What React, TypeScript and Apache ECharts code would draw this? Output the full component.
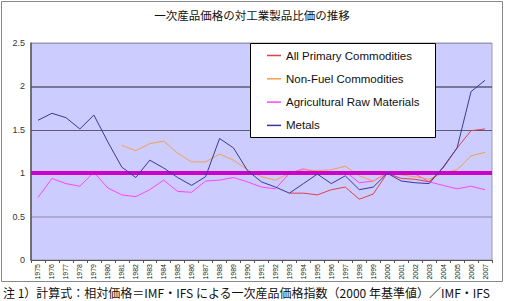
import React, { useEffect, useRef } from "react";
import * as echarts from "echarts";

// Years on the category axis
const years: string[] = [
  "1975", "1976", "1977", "1978", "1979", "1980", "1981", "1982", "1983", "1984",
  "1985", "1986", "1987", "1988", "1989", "1990", "1991", "1992", "1993", "1994",
  "1995", "1996", "1997", "1998", "1999", "2000", "2001", "2002", "2003", "2004",
  "2005", "2006", "2007",
];

// Relative price (commodity index / manufactures index, 2000 = 1)
const allPrimary: (number | null)[] = [
  null, null, null, null, null, null, null, null, null, null,
  null, null, null, null, null, null, null, null, 0.77, 0.77,
  0.75, 0.81, 0.84, 0.70, 0.76, 1.00, 0.94, 0.93, 0.90, 1.06,
  1.29, 1.49, 1.51,
];

const nonFuel: (number | null)[] = [
  null, null, null, null, null, null, 1.32, 1.26, 1.34, 1.37,
  1.23, 1.13, 1.13, 1.22, 1.15, 1.04, 0.96, 0.92, 1.00, 1.04,
  1.03, 1.04, 1.08, 0.97, 0.91, 1.00, 0.98, 0.96, 0.93, 1.00,
  1.04, 1.20, 1.24,
];

const agricultural: number[] = [
  0.72, 0.94, 0.88, 0.85, 1.01, 0.83, 0.75, 0.73, 0.81, 0.92,
  0.79, 0.78, 0.91, 0.92, 0.95, 0.90, 0.84, 0.82, 1.00, 1.05,
  1.01, 1.01, 1.02, 0.89, 0.91, 1.00, 0.99, 0.99, 0.90, 0.86,
  0.82, 0.85, 0.81,
];

const metals: number[] = [
  1.61, 1.69, 1.64, 1.51, 1.67, 1.36, 1.07, 0.95, 1.15, 1.06,
  0.95, 0.86, 0.96, 1.40, 1.29, 1.03, 0.90, 0.84, 0.77, 0.88,
  0.99, 0.88, 0.97, 0.81, 0.84, 1.00, 0.91, 0.89, 0.88, 1.07,
  1.29, 1.94, 2.07,
];

const seriesNames: string[] = [
  "All Primary Commodities",
  "Non-Fuel Commodities",
  "Agricultural Raw Materials",
  "Metals",
];

const baseLevel = 1;

const title = "一次産品価格の対工業製品比価の推移";
const note =
  "注 1）計算式：相対価格＝IMF・IFS による一次産品価格指数（2000 年基準値）／IMF・IFS";

export default function App() {
  const ref = useRef<HTMLDivElement>(null);

  useEffect(() => {
    if (!ref.current) return;
    const chart = echarts.init(ref.current, undefined, { renderer: "svg" });
    const jp = "'Noto Sans CJK JP', sans-serif";
    const latin = "'Liberation Sans', Arial, sans-serif";

    const lineSeries = (name: string, data: (number | null)[], color: string, z: number) => ({
      name,
      type: "line" as const,
      data,
      symbol: "none",
      connectNulls: false,
      lineStyle: { color, width: 1 },
      itemStyle: { color },
      z,
    });

    chart.setOption({
      animation: false,
      backgroundColor: "#ffffff",
      textStyle: { fontFamily: latin },
      graphic: [
        {
          type: "rect",
          shape: { x: 1.5, y: 1.5, width: 501, height: 280 },
          style: { fill: "none", stroke: "#888888", lineWidth: 1 },
          z: 0,
          silent: true,
        },
        {
          type: "text",
          x: 252,
          y: 15,
          style: {
            text: title,
            fontFamily: jp,
            fontSize: 11.5,
            fill: "#111111",
            align: "center",
            verticalAlign: "middle",
          },
        },
        {
          type: "rect",
          shape: { x: 250.5, y: 43.5, width: 185, height: 94 },
          style: { fill: "#ffffff", stroke: "#000000", lineWidth: 1 },
          z: 50,
          silent: true,
        },
        {
          type: "text",
          x: 3,
          y: 292,
          style: {
            text: note,
            fontFamily: jp,
            fontSize: 12,
            fill: "#111111",
            align: "left",
            verticalAlign: "middle",
          },
        },
      ],
      legend: {
        orient: "vertical",
        left: 267,
        top: 48.5,
        padding: [0, 0, 0, 0],
        z: 60,
        icon: "rect",
        itemWidth: 14,
        itemHeight: 1.5,
        itemGap: 9.3,
        data: seriesNames,
        textStyle: {
          fontFamily: latin,
          fontSize: 11.5,
          color: "#111111",
          lineHeight: 14,
          padding: [0, 0, 0, 0],
        },
      },
      grid: {
        left: 31,
        right: 13,
        top: 43,
        bottom: 41,
        show: true,
        backgroundColor: "#ccccff",
        borderColor: "#9a9ab0",
        borderWidth: 1,
      },
      xAxis: {
        type: "category",
        data: years,
        boundaryGap: true,
        axisLine: { lineStyle: { color: "#555555", width: 1 } },
        axisTick: { show: true, interval: 0, length: 3, lineStyle: { color: "#555555" } },
        axisLabel: {
          interval: 0,
          rotate: 90,
          fontSize: 7,
          color: "#222222",
          margin: 4,
        },
      },
      yAxis: {
        type: "value",
        min: 0,
        max: 2.5,
        interval: 0.5,
        axisLine: { show: true, lineStyle: { color: "#555555", width: 1.5 } },
        axisTick: { show: false },
        axisLabel: {
          fontSize: 9,
          color: "#333333",
          margin: 6,
          formatter: (v: number) => String(v),
        },
        splitLine: {
          show: true,
          lineStyle: {
            color: ["#555555", "#8a8aa6", "#8a8aa6", "#5a5a7a", "#222233", "#9a9ab0"],
            width: [1, 1, 1, 2, 1, 1] as any,
          },
        },
      },
      series: [
        lineSeries(seriesNames[0], allPrimary, "#e0404e", 4),
        lineSeries(seriesNames[1], nonFuel, "#f2a050", 3),
        {
          ...lineSeries(seriesNames[2], agricultural, "#ff44ff", 2),
          markLine: {
            silent: true,
            symbol: ["none", "none"],
            label: { show: false },
            lineStyle: { color: "#cc00cc", width: 4, type: "solid" },
            data: [{ yAxis: baseLevel }],
          },
        },
        lineSeries(seriesNames[3], metals, "#3a3a96", 5),
      ],
    });

    return () => chart.dispose();
  }, []);

  return (
    <div
      ref={ref}
      style={{ position: "fixed", left: 0, top: 0, width: 505, height: 301 }}
    />
  );
}
